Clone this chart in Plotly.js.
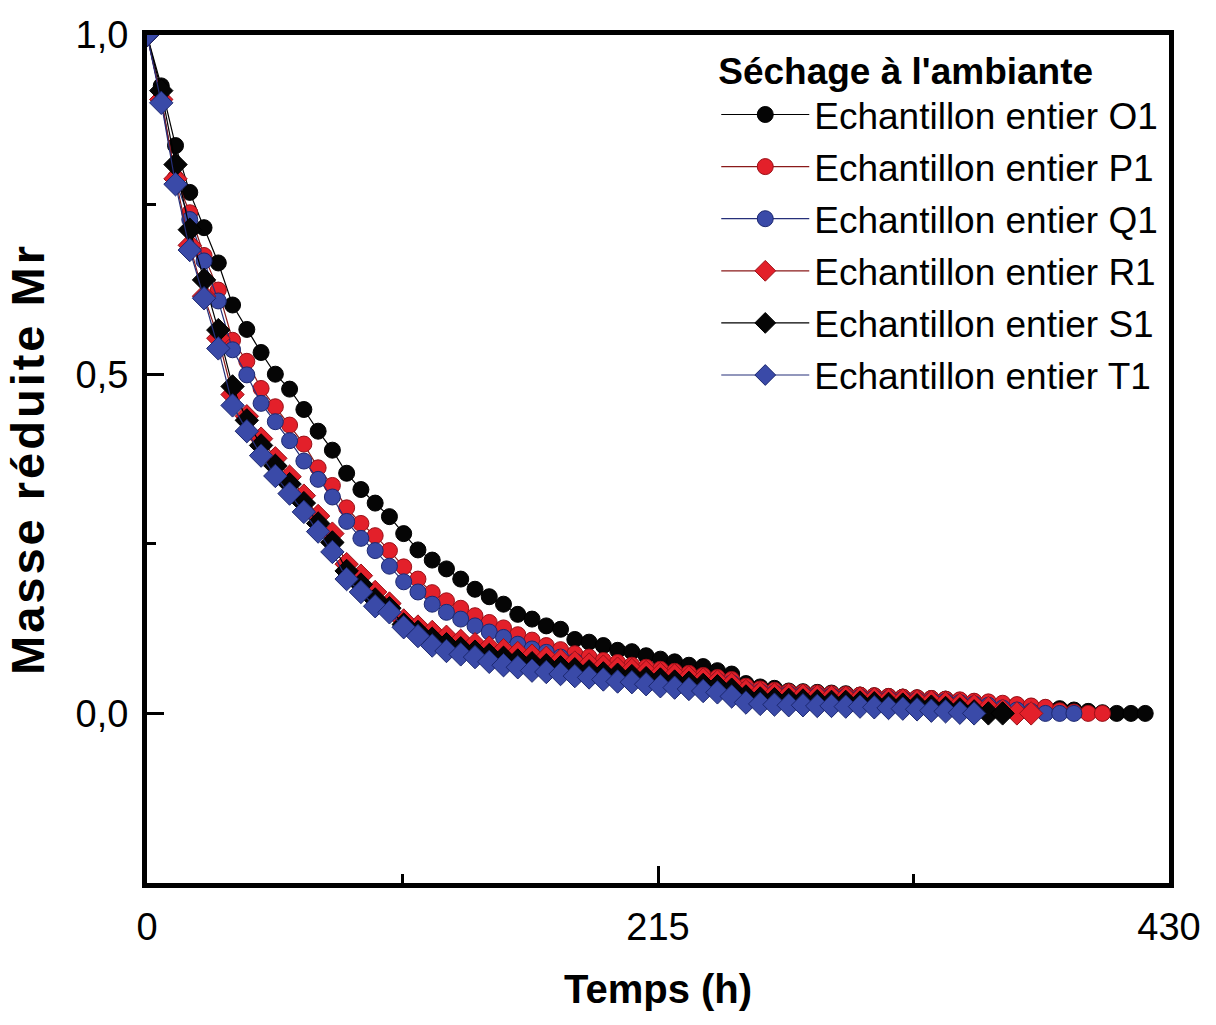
<!DOCTYPE html>
<html>
<head>
<meta charset="utf-8">
<script src="https://cdn.plot.ly/plotly-3.0.1.min.js"></script>
<style>
  html, body { margin: 0; padding: 0; background: #fff; }
  #chart { width: 1216px; height: 1025px; }
  .ytitle { letter-spacing: 3px; }
</style>
</head>
<body>
<div id="chart"></div>
<script>
// Time (h)
const temps = [0, 6, 12, 18, 24, 30, 36, 42, 48, 54, 60, 66, 72, 78, 84, 90, 96, 102, 108, 114,
  120, 126, 132, 138, 144, 150, 156, 162, 168, 174, 180, 186, 192, 198, 204, 210, 216, 222, 228, 234,
  240, 246, 252, 258, 264, 270, 276, 282, 288, 294, 300, 306, 312, 318, 324, 330, 336, 342, 348, 354,
  360, 366, 372, 378, 384, 390, 396, 402, 408, 414, 420];

// Reduced mass Mr per sample
const O1 = [1.000, 0.925, 0.837, 0.768, 0.716, 0.664, 0.602, 0.566, 0.532, 0.500,
  0.478, 0.448, 0.416, 0.388, 0.354, 0.330, 0.310, 0.290, 0.265, 0.241,
  0.226, 0.213, 0.198, 0.183, 0.172, 0.161, 0.146, 0.139, 0.129, 0.124,
  0.109, 0.105, 0.100, 0.093, 0.091, 0.085, 0.080, 0.076, 0.071, 0.069,
  0.063, 0.058, 0.044, 0.039, 0.037, 0.033, 0.032, 0.031, 0.030, 0.029,
  0.027, 0.026, 0.025, 0.024, 0.023, 0.022, 0.021, 0.019, 0.017, 0.015,
  0.013, 0.012, 0.010, 0.008, 0.007, 0.005, 0.003, 0.001, 0.000, 0.000, 0.000];
const P1 = [1.000, 0.905, 0.790, 0.738, 0.675, 0.624, 0.550, 0.519, 0.479, 0.452,
  0.425, 0.397, 0.362, 0.336, 0.303, 0.280, 0.262, 0.240, 0.216, 0.198,
  0.178, 0.166, 0.155, 0.144, 0.134, 0.126, 0.116, 0.108, 0.100, 0.094,
  0.088, 0.083, 0.078, 0.075, 0.071, 0.068, 0.065, 0.062, 0.059, 0.056,
  0.053, 0.050, 0.040, 0.036, 0.034, 0.032, 0.031, 0.030, 0.029, 0.028,
  0.027, 0.026, 0.025, 0.024, 0.023, 0.022, 0.021, 0.020, 0.018, 0.017,
  0.015, 0.013, 0.011, 0.009, 0.004, 0.002, 0.000, 0.000];
const Q1 = [1.000, 0.905, 0.785, 0.728, 0.667, 0.608, 0.536, 0.499, 0.457, 0.430,
  0.402, 0.372, 0.345, 0.319, 0.283, 0.258, 0.240, 0.217, 0.194, 0.179,
  0.161, 0.149, 0.139, 0.129, 0.120, 0.112, 0.102, 0.095, 0.090, 0.083,
  0.077, 0.072, 0.068, 0.065, 0.062, 0.060, 0.057, 0.055, 0.052, 0.050,
  0.048, 0.045, 0.035, 0.032, 0.030, 0.029, 0.028, 0.027, 0.026, 0.025,
  0.024, 0.023, 0.022, 0.021, 0.020, 0.019, 0.018, 0.016, 0.014, 0.012,
  0.008, 0.005, 0.003, 0.000, 0.000, 0.000];
const R1 = [1.000, 0.905, 0.788, 0.690, 0.615, 0.553, 0.470, 0.438, 0.405, 0.376,
  0.349, 0.321, 0.291, 0.265, 0.220, 0.203, 0.179, 0.162, 0.137, 0.128,
  0.120, 0.113, 0.107, 0.102, 0.097, 0.093, 0.089, 0.085, 0.082, 0.078,
  0.075, 0.072, 0.069, 0.066, 0.064, 0.061, 0.058, 0.056, 0.053, 0.050,
  0.047, 0.043, 0.033, 0.030, 0.028, 0.027, 0.026, 0.025, 0.024, 0.023,
  0.022, 0.021, 0.020, 0.019, 0.018, 0.017, 0.015, 0.013, 0.011, 0.008,
  0.004, 0.000, 0.000];
const S1 = [1.000, 0.918, 0.809, 0.713, 0.639, 0.565, 0.482, 0.432, 0.395, 0.365,
  0.338, 0.310, 0.280, 0.252, 0.210, 0.190, 0.168, 0.155, 0.131, 0.120,
  0.110, 0.102, 0.096, 0.091, 0.086, 0.082, 0.078, 0.074, 0.071, 0.068,
  0.065, 0.062, 0.059, 0.057, 0.055, 0.052, 0.050, 0.047, 0.045, 0.042,
  0.040, 0.035, 0.025, 0.022, 0.021, 0.020, 0.019, 0.018, 0.017, 0.017,
  0.016, 0.015, 0.014, 0.013, 0.012, 0.010, 0.008, 0.006, 0.003, 0.000,
  0.000];
const T1 = [1.000, 0.900, 0.780, 0.683, 0.612, 0.538, 0.454, 0.416, 0.380, 0.350,
  0.324, 0.297, 0.268, 0.238, 0.198, 0.179, 0.158, 0.149, 0.127, 0.114,
  0.100, 0.092, 0.087, 0.083, 0.076, 0.071, 0.068, 0.063, 0.061, 0.058,
  0.055, 0.053, 0.050, 0.047, 0.046, 0.043, 0.040, 0.038, 0.036, 0.033,
  0.031, 0.025, 0.016, 0.014, 0.013, 0.012, 0.012, 0.011, 0.011, 0.010,
  0.010, 0.009, 0.008, 0.007, 0.006, 0.004, 0.003, 0.001, 0.000];

const names = ['Echantillon entier O1', 'Echantillon entier P1', 'Echantillon entier Q1',
  'Echantillon entier R1', 'Echantillon entier S1', 'Echantillon entier T1'];
const xTickVals = [0, 215, 430];
const xTickText = ['0', '215', '430'];
const yTickVals = [0, 0.5, 1.0];

const seriesList = [O1, P1, Q1, R1, S1, T1];
const styles = [
  {symbol: 'circle', fill: '#050505', edge: '#000000', line: '#000000'},
  {symbol: 'circle', fill: '#e3202a', edge: '#9a1018', line: '#8a1a1a'},
  {symbol: 'circle', fill: '#3a4aa8', edge: '#1c2870', line: '#26307a'},
  {symbol: 'diamond', fill: '#e3202a', edge: '#9a1018', line: '#8a1a1a'},
  {symbol: 'diamond', fill: '#050505', edge: '#000000', line: '#000000'},
  {symbol: 'diamond', fill: '#3a4aa8', edge: '#1c2870', line: '#26307a'}
];

const traces = seriesList.map((ys, i) => ({
  type: 'scatter',
  mode: 'lines+markers',
  name: names[i],
  legendgroup: 'g' + i,
  x: temps.slice(0, ys.length),
  y: ys,
  line: {color: styles[i].line, width: 1.2},
  marker: {
    symbol: styles[i].symbol,
    size: styles[i].symbol === 'circle' ? 16 : 18,
    color: styles[i].fill,
    line: {color: styles[i].edge, width: 1}
  }
}));

const fontFam = 'Liberation Sans, Arial, sans-serif';

const layout = {
  width: 1216,
  height: 1025,
  paper_bgcolor: '#ffffff',
  plot_bgcolor: '#ffffff',
  separators: ', ',
  margin: {l: 147, r: 47, t: 35, b: 142, pad: 0},
  showlegend: true,
  legend: {
    x: 0.557, y: 0.999, xanchor: 'left', yanchor: 'top',
    bgcolor: 'rgba(255,255,255,0)',
    borderwidth: 0,
    font: {family: fontFam, size: 37, color: '#000'},
    title: {text: "<b>Séchage à l'ambiante</b>", font: {family: fontFam, size: 37, color: '#000'}},
    tracegroupgap: 1,
    itemwidth: 88
  },
  xaxis: {
    range: [0, 430],
    tickmode: 'array',
    tickvals: xTickVals,
    ticktext: xTickText,
    ticks: 'inside',
    ticklen: 17,
    tickwidth: 3,
    tickcolor: '#000',
    showline: true,
    linewidth: 5,
    linecolor: '#000',
    mirror: true,
    showgrid: false,
    zeroline: false,
    tickfont: {family: fontFam, size: 38, color: '#000'},
    ticklabelstandoff: 6,
    minor: {tickvals: [107.5, 322.5], ticks: 'inside', ticklen: 9, tickwidth: 3, tickcolor: '#000', showgrid: false},
    title: {text: '<b>Temps (h)</b>', font: {family: fontFam, size: 40, color: '#000'}, standoff: 30}
  },
  yaxis: {
    range: [-0.25, 1.0],
    tickmode: 'array',
    tickvals: yTickVals,
    tickformat: '.1f',
    ticks: 'inside',
    ticklen: 17,
    tickwidth: 3,
    tickcolor: '#000',
    showline: true,
    linewidth: 5,
    linecolor: '#000',
    mirror: true,
    showgrid: false,
    zeroline: false,
    tickfont: {family: fontFam, size: 38, color: '#000'},
    ticklabelstandoff: 6,
    minor: {tickvals: [-0.25, 0.25, 0.75], ticks: 'inside', ticklen: 9, tickwidth: 3, tickcolor: '#000', showgrid: false},
    title: {text: '<b>Masse réduite Mr</b>', font: {family: fontFam, size: 47, color: '#000'}, standoff: 18}
  }
};

Plotly.newPlot('chart', traces, layout, {displayModeBar: false, staticPlot: true});
</script>
</body>
</html>
